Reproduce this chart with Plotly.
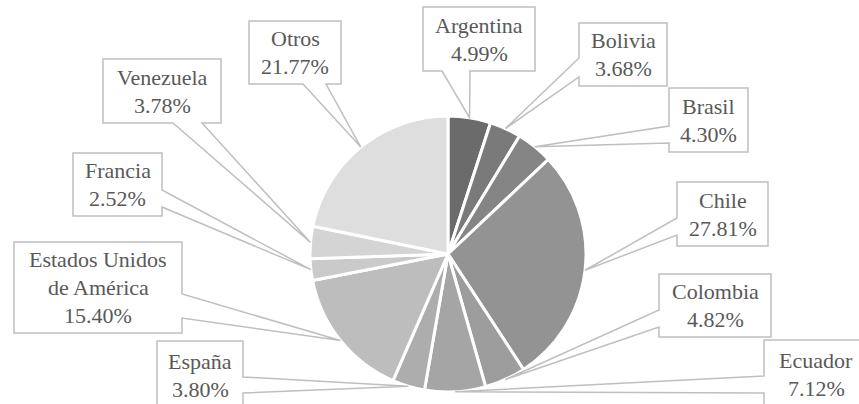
import math
import plotly.graph_objects as go

# ---- data ----
countries = ["Argentina", "Bolivia", "Brasil", "Chile", "Colombia", "Ecuador",
             "España", "Estados Unidos de América", "Francia", "Venezuela", "Otros"]
label_lines = [["Argentina"], ["Bolivia"], ["Brasil"], ["Chile"], ["Colombia"], ["Ecuador"],
               ["España"], ["Estados Unidos", "de América"], ["Francia"], ["Venezuela"], ["Otros"]]
shares = [4.99, 3.68, 4.30, 27.81, 4.82, 7.12, 3.80, 15.40, 2.52, 3.78, 21.77]

# ---- style ----
slice_colors = ["#6b6b6b", "#7a7a7a", "#858585", "#939393", "#9d9d9d", "#a5a5a5",
                "#adadad", "#bdbdbd", "#cacaca", "#d4d4d4", "#dedede"]
W, H = 859, 404
CX, CY, R = 448, 254, 138          # pie centre / radius in pixels
TEXT_COLOR = "#595959"
LINE_COLOR = "#bfbfbf"
FONT = "Liberation Serif"
FONT_SIZE = 22
LINE_STEP = 28

# label box layout (pixels): x0, y0, x1, y1, side of wedge, wedge base a, wedge base b
label_boxes = [
    (423, 7, 535, 71, "bottom", 442, 470),
    (579, 23, 667, 86, "left", 58, 77),
    (669, 88, 748, 152, "left", 126, 143),
    (677, 182, 768, 246, "left", 218, 235),
    (659, 274, 771, 337, "left", 310, 327),
    (764, 340, 868, 412, "left", 376, 393),
    (157, 341, 243, 412, "right", 377, 393),
    (14, 242, 182, 333, "right", 294, 318),
    (73, 153, 162, 216, "right", 190, 207),
    (103, 59, 221, 123, "bottom", 173, 202),
    (249, 21, 341, 84, "bottom", 303, 326),
]

fig = go.Figure()
fig.add_trace(go.Pie(
    labels=countries, values=shares, sort=False, direction="clockwise", rotation=0,
    textinfo="none", hoverinfo="label+percent",
    marker=dict(colors=slice_colors, line=dict(color="white", width=3)),
    domain=dict(x=[(CX - R) / W, (CX + R) / W], y=[1 - (CY + R) / H, 1 - (CY - R) / H]),
    showlegend=False,
))

total = sum(shares)
cum = 0.0
for lines, v, box in zip(label_lines, shares, label_boxes):
    theta = 2 * math.pi * (cum + v / 2) / total
    cum += v
    tx = CX + R * math.sin(theta)
    ty = CY - R * math.cos(theta)
    x0, y0, x1, y1, side, a, b = box
    if side == "bottom":
        pts = [(x0, y0), (x1, y0), (x1, y1), (b, y1), (tx, ty), (a, y1), (x0, y1)]
    elif side == "left":
        pts = [(x0, y0), (x1, y0), (x1, y1), (x0, y1), (x0, b), (tx, ty), (x0, a)]
    else:  # right
        pts = [(x0, y0), (x1, y0), (x1, a), (tx, ty), (x1, b), (x1, y1), (x0, y1)]
    path = "M " + " L ".join(f"{px:.2f},{py:.2f}" for px, py in pts) + " Z"
    fig.add_shape(type="path", path=path, xref="x", yref="y",
                  fillcolor="white", line=dict(color=LINE_COLOR, width=1.5),
                  layer="above")
    all_lines = lines + [f"{v:.2f}%"]
    n = len(all_lines)
    cy_text = (y0 + y1) / 2 if y1 <= H else y0 + 34
    for i, txt in enumerate(all_lines):
        fig.add_annotation(x=(x0 + x1) / 2, y=cy_text + (i - (n - 1) / 2) * LINE_STEP,
                           xref="x", yref="y",
                           text=f"<span style=\"font-family:{FONT},serif\">{txt}</span>",
                           showarrow=False, xanchor="center", yanchor="middle",
                           font=dict(family=FONT, size=FONT_SIZE, color=TEXT_COLOR))

fig.update_layout(
    width=W, height=H, margin=dict(l=0, r=0, t=0, b=0),
    paper_bgcolor="white", plot_bgcolor="white",
    font=dict(family=FONT, size=FONT_SIZE, color=TEXT_COLOR),
    xaxis=dict(range=[0, W], visible=False, fixedrange=True, domain=[0, 1]),
    yaxis=dict(range=[H, 0], visible=False, fixedrange=True, domain=[0, 1]),
)
fig.write_html("out.html", config={"displayModeBar": False},
               post_script="document.body.style.margin='0';")
